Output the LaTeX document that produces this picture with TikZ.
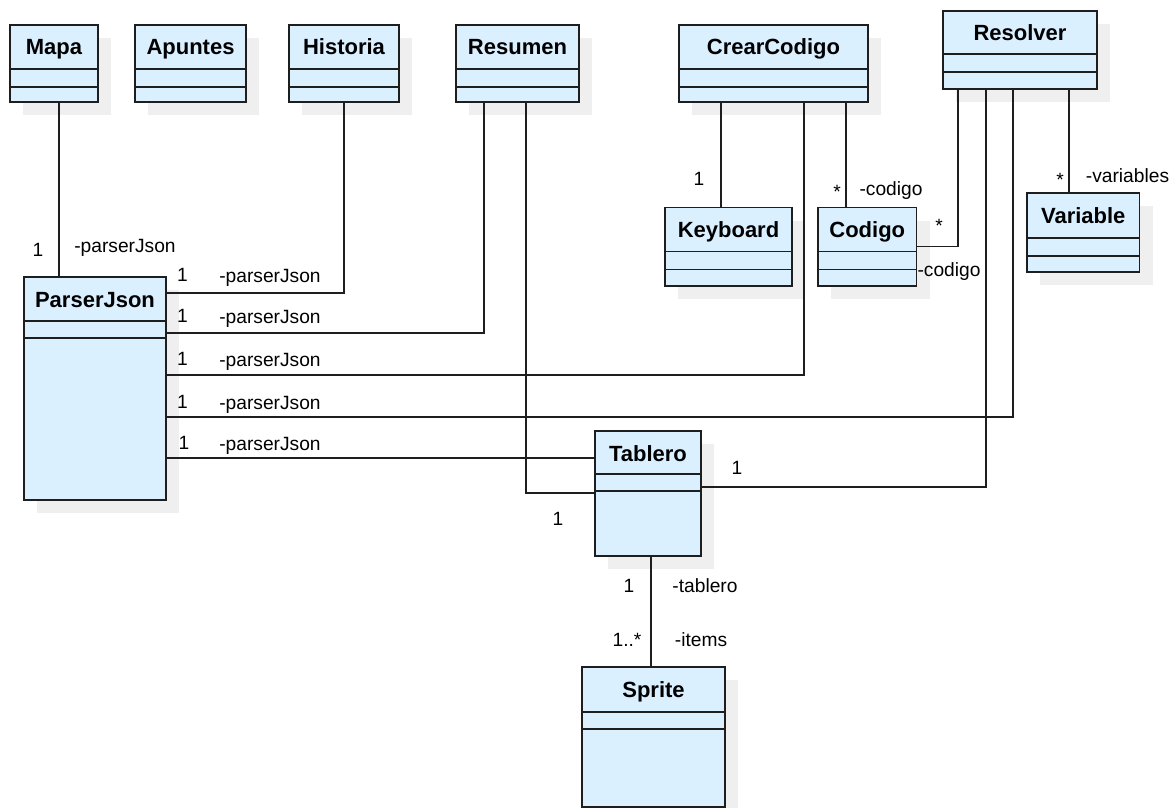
\documentclass[tikz,border=0pt]{standalone}
\usepackage{fontspec}
\setmainfont{Liberation Sans}
\usetikzlibrary{calc}

\definecolor{clsfill}{HTML}{DAF0FF}
\definecolor{clsshadow}{HTML}{EFEFEF}
\definecolor{clsdraw}{HTML}{1E1E1E}

\tikzset{
  clsbox/.style={draw=clsdraw, line width=1.6pt, fill=clsfill, inner sep=0pt, outer sep=0pt},
  clsedge/.style={draw=clsdraw, line width=1.6pt},
  clsname/.style={font=\fontsize{22}{24}\selectfont\bfseries, inner sep=0pt, anchor=base, text=black},
  assoc/.style={draw=clsdraw, line width=1.4pt},
  lbl/.style={font=\fontsize{19.2}{21}\selectfont, inner sep=0pt, anchor=base, text=black}
}

% UML class: id, title, left, top, width, height, first divider, second divider
\newcommand{\umlclass}[8]{%
  \fill[clsshadow] (#3+13,#4+13) rectangle ++(#5,#6);
  \node[clsbox, minimum width=#5pt, minimum height=#6pt, anchor=north west] (#1) at (#3,#4) {};
  \draw[clsedge] ([yshift=-#7pt]#1.north west) -- ([yshift=-#7pt]#1.north east);
  \draw[clsedge] ([yshift=-#8pt]#1.north west) -- ([yshift=-#8pt]#1.north east);
  \node[clsname] (#1-name) at ([yshift=-30pt]#1.north) {#2};
}

\begin{document}
\begin{tikzpicture}[x=1pt, y={(0pt,-1pt)}]
\useasboundingbox (0,0) rectangle (1172,808);

% classes
\umlclass{mapa}{Mapa}{10}{25}{88}{77}{44}{62}
\umlclass{apuntes}{Apuntes}{135}{25}{111}{77}{44}{62}
\umlclass{historia}{Historia}{289}{25}{110}{77}{44}{62}
\umlclass{resumen}{Resumen}{456}{25}{123}{77}{44}{62}
\umlclass{crear}{CrearCodigo}{679}{25}{189}{77}{44}{62}
\umlclass{resolver}{Resolver}{943}{11}{154}{78}{43}{61}
\umlclass{keyboard}{Keyboard}{665}{207.5}{127}{78.5}{44}{62}
\umlclass{codigo}{Codigo}{818}{207.5}{98.5}{78.5}{44}{62}
\umlclass{variable}{Variable}{1027}{193}{112.5}{79}{45}{63}
\umlclass{parser}{ParserJson}{24}{277}{142}{223}{44}{61}
\umlclass{tablero}{Tablero}{595}{431}{106}{125}{43}{60}
\umlclass{sprite}{Sprite}{582}{667}{143}{140}{45}{62}

% associations
\draw[assoc] ([xshift=5pt]mapa.south) -- ([xshift=5pt]mapa.south |- parser.north);
\draw[assoc] (historia.south) |- ([yshift=-16pt]parser.north east);
\draw[assoc] ([xshift=-33.5pt]resumen.south) |- ([yshift=-56pt]parser.north east);
\draw[assoc] ([xshift=8.5pt]resumen.south) |- ([yshift=-62pt]tablero.north west);
\draw[assoc] ([xshift=-52.5pt]crear.south) -- ([xshift=-52.5pt]crear.south |- keyboard.north);
\draw[assoc] ([xshift=30.5pt]crear.south) |- ([yshift=-98pt]parser.north east);
\draw[assoc] ([xshift=72.5pt]crear.south) -- ([xshift=72.5pt]crear.south |- codigo.north);
\draw[assoc] ([xshift=-62pt]resolver.south) |- ([yshift=-39pt]codigo.north east);
\draw[assoc] ([xshift=-34pt]resolver.south) |- ([yshift=-56pt]tablero.north east);
\draw[assoc] ([xshift=-7pt]resolver.south) |- ([yshift=-140pt]parser.north east);
\draw[assoc] ([xshift=49pt]resolver.south) -- ([xshift=49pt]resolver.south |- variable.north);
\draw[assoc] ([yshift=-181pt]parser.north east) -- ([yshift=-181pt]parser.north east -| tablero.west);
\draw[assoc] ([xshift=3pt]tablero.south) -- ([xshift=3pt]tablero.south |- sprite.north);

% multiplicities and role names
\node[lbl] (m-mapa) at (38,256) {1};
\node[lbl] (r-mapa) at (125,252) {-parserJson};

\node[lbl] (m-hist) at (182.5,281) {1};
\node[lbl] (r-hist) at (270,282) {-parserJson};
\node[lbl] (m-res) at (182.5,322) {1};
\node[lbl] (r-res) at (270,323) {-parserJson};
\node[lbl] (m-crear) at (182.5,365) {1};
\node[lbl] (r-crear) at (270,366) {-parserJson};
\node[lbl] (m-resol) at (182.5,408) {1};
\node[lbl] (r-resol) at (270,409) {-parserJson};
\node[lbl] (m-tab) at (184,449) {1};
\node[lbl] (r-tab) at (270,450) {-parserJson};

\node[lbl] (m-kb) at (699,185.5) {1};
\node[lbl] (m-cod) at (837,198) {*};
\node[lbl] (r-cod) at (891,195) {-codigo};
\node[lbl] (m-cod2) at (939,232) {*};
\node[lbl] (r-cod2) at (949,276) {-codigo};
\node[lbl] (m-var) at (1060,186) {*};
\node[lbl] (r-var) at (1127.5,182) {-variables};

\node[lbl] (m-tabr) at (737,474) {1};
\node[lbl] (m-tabl) at (558,525) {1};
\node[lbl] (m-tabs) at (629,592) {1};
\node[lbl] (r-tabs) at (705,592) {-tablero};
\node[lbl] (m-spr) at (627,646) {1..*};
\node[lbl] (r-spr) at (701,646) {-items};
\end{tikzpicture}
\end{document}
